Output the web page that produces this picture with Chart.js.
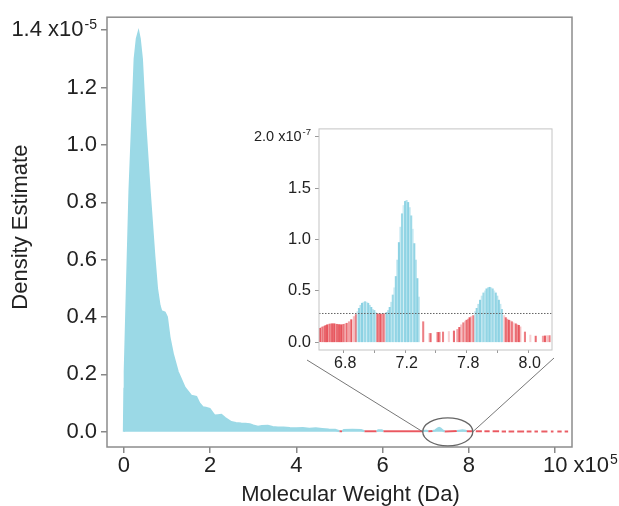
<!DOCTYPE html>
<html>
<head>
<meta charset="utf-8">
<script src="https://cdn.jsdelivr.net/npm/chart.js@4"></script>
<style>
  html, body { margin: 0; padding: 0; background: #fff; }
  #wrap { position: relative; width: 619px; height: 506px; }
  #mainChart { position: absolute; left: 0; top: 0; }
  #insetChart { position: absolute; left: 240px; top: 115px; }
</style>
</head>
<body>
<div id="wrap">
  <canvas id="mainChart" width="619" height="506"></canvas>
  <canvas id="insetChart" width="325" height="262"></canvas>
</div>
<script>
// main curve: molecular weight (x10^5 Da) and density (x10^-5)
const mwMain = [0, 0.012, 0.02, 0.07, 0.13, 0.19, 0.25, 0.30, 0.34, 0.37, 0.42, 0.50, 0.60, 0.71, 0.77,
  0.83, 0.87, 0.92, 0.95, 1.00, 1.06, 1.14, 1.25, 1.41, 1.56, 1.62, 1.68, 1.75, 1.83, 1.90, 1.99,
  2.10, 2.18, 2.26, 2.35, 2.49, 2.60, 2.72, 2.82, 2.92, 3.00, 3.11, 3.20, 3.34, 3.45, 3.57, 3.70,
  3.85, 4.00, 4.15, 4.30, 4.45, 4.60, 4.75, 4.90, 5.00, 5.06, 5.10, 5.30, 5.50, 5.58, 5.86, 5.90,
  5.98, 6.02, 6.30, 6.60, 6.93, 6.98, 7.02, 7.06, 7.16, 7.22, 7.28, 7.31, 7.34, 7.40, 7.44, 7.72,
  7.78, 7.85, 7.92, 7.95, 8.10, 8.13, 8.16, 8.30, 8.33, 8.36, 8.48, 8.51, 8.55, 8.70, 8.73, 8.76,
  8.86, 8.89, 8.92, 9.05, 9.08, 9.12, 9.28, 9.31, 9.34, 9.45, 9.48, 9.52, 9.60, 9.63, 9.68, 9.82,
  9.85, 9.90, 9.96, 9.99, 10.05, 10.15, 10.18, 10.22, 10.30];
const densMain = [0, 0.15, 0.21, 0.50, 0.84, 1.07, 1.30, 1.37, 1.392, 1.37, 1.30, 1.07, 0.84, 0.61, 0.50,
  0.44, 0.42, 0.418, 0.416, 0.40, 0.33, 0.27, 0.21, 0.155, 0.126, 0.124, 0.122, 0.10, 0.086, 0.084, 0.080,
  0.057, 0.058, 0.059, 0.048, 0.034, 0.031, 0.029, 0.028, 0.026, 0.022, 0.018, 0.020, 0.021, 0.017, 0.015, 0.015,
  0.013, 0.012, 0.013, 0.011, 0.012, 0.010, 0.008, 0.007, 0.002, 0.002, 0.006, 0.007, 0.006, 0.002, 0.002, 0.005,
  0.005, 0.002, 0.0015, 0.002, 0.002, 0.004, 0.004, 0.002, 0.0025, 0.005, 0.012, 0.0138, 0.012, 0.004, 0.001, 0.0025,
  0.004, 0.0053, 0.004, 0.002, 0.002, null, 0.0018, 0.0018, null, 0.0015, 0.0015, null, 0.0015, 0.0015, null, 0.0012,
  0.0012, null, 0.0012, 0.0012, null, 0.001, 0.001, null, 0.001, 0.001, null, 0.001, 0.001, null, 0.001, 0.001,
  null, 0.001, 0.001, null, 0.001, 0.001, null, 0.001, 0.001];

// inset: zoomed region, molecular weight (x10^5 Da) and density (x10^-7)
const mwInset = [6.746, 6.755, 6.763, 6.771, 6.778, 6.786, 6.793, 6.802, 6.81, 6.818, 6.825, 6.833, 6.84,
  6.852, 6.857, 6.864, 6.87, 6.878, 6.885, 6.893, 6.90, 6.91, 6.92, 6.935, 6.95, 6.967, 6.98,
  6.99, 7.00, 7.01, 7.02, 7.03, 7.04, 7.05, 7.06, 7.07, 7.08, 7.09, 7.10, 7.11,
  7.12, 7.13, 7.14, 7.15, 7.16, 7.168,
  7.18, 7.19, 7.20, 7.21, 7.22, 7.23, 7.24, 7.25, 7.26, 7.27, 7.28, 7.29, 7.30, 7.31, 7.32, 7.33,
  7.34, 7.35, 7.36, 7.37, 7.38, 7.39, 7.418,
  7.458, 7.466, 7.51, 7.518, 7.527, 7.547, 7.585, 7.618, 7.64, 7.653, 7.665, 7.679, 7.69, 7.70, 7.71,
  7.72, 7.73, 7.744,
  7.755, 7.766, 7.777, 7.788, 7.799, 7.81, 7.82, 7.83, 7.84, 7.85, 7.86, 7.87, 7.88, 7.89, 7.90,
  7.91, 7.92, 7.93,
  7.945, 7.955, 7.965, 7.975, 7.985, 7.995, 8.005, 8.02, 8.03, 8.04, 8.05, 8.08, 8.115, 8.15,
  8.197, 8.21, 8.225, 8.24];
const densInset = [0.136, 0.145, 0.15, 0.155, 0.16, 0.165, 0.17, 0.175, 0.178, 0.18, 0.18, 0.18, 0.18,
  0.176, 0.175, 0.173, 0.172, 0.171, 0.17, 0.172, 0.175, 0.18, 0.185, 0.20, 0.22, 0.25, 0.27,
  0.30, 0.33, 0.36, 0.38, 0.39, 0.395, 0.39, 0.38, 0.36, 0.34, 0.32, 0.31, 0.29,
  0.278, 0.275, 0.274, 0.275, 0.277, 0.279,
  0.29, 0.31, 0.34, 0.39, 0.46, 0.53, 0.64, 0.80, 0.97, 1.12, 1.25, 1.33, 1.37, 1.38, 1.36, 1.31,
  1.23, 1.10, 0.96, 0.80, 0.62, 0.44, 0.20,
  0.087, 0.086, 0.097, 0.096, 0.098, 0.10, 0.105, 0.11, 0.125, 0.145, 0.17, 0.19, 0.205, 0.215, 0.225,
  0.24, 0.25, 0.26,
  0.30, 0.33, 0.37, 0.41, 0.45, 0.48, 0.50, 0.52, 0.53, 0.535, 0.53, 0.52, 0.50, 0.48, 0.45,
  0.41, 0.37, 0.32,
  0.26, 0.24, 0.225, 0.215, 0.21, 0.20, 0.19, 0.18, 0.17, 0.165, 0.15, 0.10, 0.07, 0.06,
  0.06, 0.062, 0.065, 0.065];

const threshold = 0.28; // x10^-7
const mainXTicks = [0, 2, 4, 6, 8, 10];
const mainYTicks = [0, 0.2, 0.4, 0.6, 0.8, 1.0, 1.2, 1.4];
const insetXTicks = [6.8, 7.0, 7.2, 7.4, 7.6, 7.8, 8.0, 8.2];
const insetXLabels = ['6.8', '', '7.2', '', '7.8', '', '8.0', ''];
const insetYTicks = [0, 0.5, 1.0, 1.5, 2.0];
const zoomWindow = [6.93, 8.09];

const FAMILY = "'Liberation Sans', Arial, sans-serif";
const CYAN = '#9bd9e6';
const RED = 'rgba(232, 72, 80, 0.85)';
const shade = [0.9, 0.35, 0.7, 0.25, 0.8, 0.5];
Chart.defaults.font.family = FAMILY;
Chart.defaults.color = '#222';

const mainThreshold = threshold / 100;

function segColor(c) {
  return Math.max(c.p0.parsed.y, c.p1.parsed.y) > mainThreshold ? CYAN : RED;
}

function barColor(c) {
  const v = c.parsed ? c.parsed.y : 0;
  const a = shade[c.dataIndex % shade.length];
  return v > threshold ? `rgba(140, 210, 227, ${Math.min(1, a + 0.15)})` : `rgba(229, 72, 80, ${a})`;
}

const framePlugin = {
  id: 'frame',
  afterDatasetsDraw(chart, args, opts) {
    const {ctx, chartArea: a} = chart;
    ctx.save();
    ctx.strokeStyle = opts.color;
    ctx.lineWidth = opts.width;
    ctx.strokeRect(a.left, a.top, a.right - a.left, a.bottom - a.top);
    ctx.restore();
  }
};

// "x10" with superscript exponent next to the last tick label, plus the axis titles
const exponentPlugin = {
  id: 'exponent',
  afterDraw(chart, args, o) {
    const {ctx} = chart;
    ctx.save();
    ctx.fillStyle = '#222';
    ctx.textBaseline = 'middle';
    if (o.y) {
      const s = chart.scales.y;
      const py = s.getPixelForValue(s.ticks[s.ticks.length - 1].value);
      const right = s.right - s.options.grid.tickLength - s.options.ticks.padding;
      ctx.font = `${o.y.supSize}px ${FAMILY}`;
      const supW = ctx.measureText(o.y.exp).width;
      ctx.textAlign = 'right';
      ctx.fillText(o.y.exp, right, py - o.y.rise);
      ctx.font = `${o.y.size}px ${FAMILY}`;
      ctx.fillText(o.y.base, right - supW - 1, py);
    }
    if (o.x) {
      const s = chart.scales.x;
      const last = s.ticks[s.ticks.length - 1];
      const px = s.getPixelForValue(last.value);
      const py = s.top + s.options.grid.tickLength + s.options.ticks.padding + o.x.size * 0.6;
      ctx.font = `${o.x.size}px ${FAMILY}`;
      const w = ctx.measureText(String(last.value)).width;
      ctx.textAlign = 'left';
      ctx.fillText(o.x.base, px + w / 2, py);
      const wb = ctx.measureText(o.x.base).width;
      ctx.font = `${o.x.supSize}px ${FAMILY}`;
      ctx.fillText(o.x.exp, px + w / 2 + wb + 1, py - o.x.rise);
    }
    const a = chart.chartArea;
    if (o.xTitle) {
      ctx.font = `${o.xTitle.size}px ${FAMILY}`;
      ctx.textAlign = 'center';
      ctx.fillText(o.xTitle.text, (a.left + a.right) / 2 + o.xTitle.shift, chart.height - o.xTitle.fromBottom);
    }
    if (o.yTitle) {
      ctx.font = `${o.yTitle.size}px ${FAMILY}`;
      ctx.textAlign = 'center';
      ctx.translate(o.yTitle.fromLeft, (a.top + a.bottom) / 2 + o.yTitle.shift);
      ctx.rotate(-Math.PI / 2);
      ctx.fillText(o.yTitle.text, 0, 0);
    }
    ctx.restore();
  }
};

const insetCanvas = document.getElementById('insetChart');

const insetChart = new Chart(insetCanvas, {
  type: 'bar',
  data: {
    datasets: [
      {
        type: 'line',
        data: [{x: 6.74, y: threshold}, {x: 8.256, y: threshold}],
        borderColor: '#666',
        borderWidth: 1,
        borderDash: [1.5, 1.5],
        pointRadius: 0,
        order: 0
      },
      {
        data: mwInset.map((x, i) => ({x, y: densInset[i]})),
        backgroundColor: barColor,
        barThickness: 1.4,
        order: 1
      }
    ]
  },
  options: {
    responsive: false,
    animation: false,
    layout: {padding: {left: 0, top: 13, right: 13, bottom: 0}},
    plugins: {
      legend: {display: false},
      tooltip: {enabled: false},
      frame: {color: '#c4c4c4', width: 1},
      exponent: {y: {base: '2.0 x10', exp: '-7', size: 14.5, supSize: 9.5, rise: 4}}
    },
    scales: {
      x: {
        type: 'linear',
        min: 6.74,
        max: 8.256,
        offset: false,
        afterBuildTicks: (s) => { s.ticks = insetXTicks.map((v) => ({value: v})); },
        afterFit: (s) => { s.height = 27; },
        grid: {drawOnChartArea: false, tickLength: 3, color: '#999'},
        border: {display: false},
        ticks: {
          font: {size: 16}, padding: 1, labelOffset: 17, autoSkip: false, maxRotation: 0,
          callback: (v, i) => insetXLabels[i]
        }
      },
      y: {
        min: -0.075,
        max: 2.075,
        afterBuildTicks: (s) => { s.ticks = insetYTicks.map((v) => ({value: v})); },
        afterFit: (s) => { s.width = 79; },
        grid: {drawOnChartArea: false, tickLength: 4, color: '#999'},
        border: {display: false},
        ticks: {
          font: {size: 16.5}, padding: 4,
          callback: (v, i) => (i === insetYTicks.length - 1 ? '' : v.toFixed(1))
        }
      }
    }
  },
  plugins: [framePlugin, exponentPlugin]
});

const zoomPlugin = {
  id: 'zoomMark',
  afterDatasetsDraw(chart) {
    const {ctx} = chart;
    const xs = chart.scales.x;
    const ys = chart.scales.y;
    const x0 = xs.getPixelForValue(zoomWindow[0]);
    const x1 = xs.getPixelForValue(zoomWindow[1]);
    const cy = ys.getPixelForValue(0);
    const a = insetChart.chartArea;
    const ox = insetCanvas.offsetLeft;
    const oy = insetCanvas.offsetTop;
    ctx.save();
    ctx.strokeStyle = '#777';
    ctx.lineWidth = 1;
    ctx.beginPath();
    ctx.moveTo(ox + a.left - 12, oy + a.bottom + 10);
    ctx.lineTo(x0, cy);
    ctx.moveTo(ox + a.right + 2, oy + a.bottom + 8);
    ctx.lineTo(x1, cy);
    ctx.stroke();
    ctx.beginPath();
    ctx.ellipse((x0 + x1) / 2, cy, (x1 - x0) / 2, 14, 0, 0, Math.PI * 2);
    ctx.strokeStyle = '#666';
    ctx.lineWidth = 1.3;
    ctx.stroke();
    ctx.restore();
  }
};

const mainChart = new Chart(document.getElementById('mainChart'), {
  type: 'line',
  data: {
    datasets: [{
      data: mwMain.map((x, i) => ({x, y: densMain[i]})),
      borderWidth: 2,
      pointRadius: 0,
      fill: 'origin',
      spanGaps: false,
      borderColor: CYAN,
      backgroundColor: CYAN,
      segment: {borderColor: segColor, backgroundColor: segColor}
    }]
  },
  options: {
    responsive: false,
    animation: false,
    layout: {padding: {left: 0, top: 12, right: 47, bottom: 0}},
    plugins: {
      legend: {display: false},
      tooltip: {enabled: false},
      frame: {color: '#8c8c8c', width: 1.5},
      exponent: {
        y: {base: '1.4 x10', exp: '-5', size: 22, supSize: 14, rise: 5},
        x: {base: ' x10', exp: '5', size: 22, supSize: 14, rise: 6},
        xTitle: {text: 'Molecular Weight (Da)', size: 22, shift: 11, fromBottom: 11},
        yTitle: {text: 'Density Estimate', size: 22, shift: -5, fromLeft: 21}
      }
    },
    scales: {
      x: {
        type: 'linear',
        min: -0.39,
        max: 10.39,
        afterBuildTicks: (s) => { s.ticks = mainXTicks.map((v) => ({value: v})); },
        afterFit: (s) => { s.height = 59; },
        grid: {drawOnChartArea: false, tickLength: 6, color: '#888', lineWidth: 1.5},
        border: {display: false},
        ticks: {font: {size: 22}, padding: 0, maxRotation: 0, autoSkip: false, callback: (v) => String(v)}
      },
      y: {
        min: -0.053,
        max: 1.445,
        afterBuildTicks: (s) => { s.ticks = mainYTicks.map((v) => ({value: v})); },
        afterFit: (s) => { s.width = 107; },
        grid: {drawOnChartArea: false, tickLength: 6, color: '#888', lineWidth: 1.5},
        border: {display: false},
        ticks: {
          font: {size: 22}, padding: 4,
          callback: (v, i) => (i === mainYTicks.length - 1 ? '' : v.toFixed(1))
        }
      }
    }
  },
  plugins: [framePlugin, exponentPlugin, zoomPlugin]
});
</script>
</body>
</html>
